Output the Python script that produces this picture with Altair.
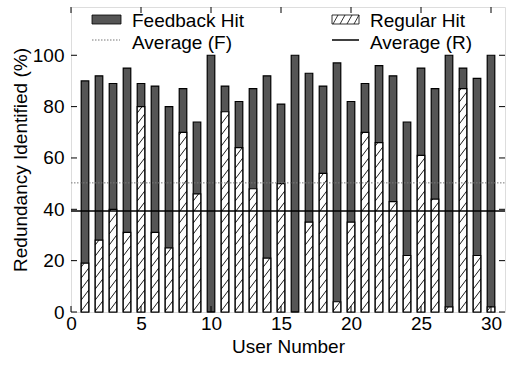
import altair as alt
import numpy as np
import pandas as pd

# ---- data ----
users = list(range(1, 31))
feedback_hit = [90, 92, 89, 95, 89, 88, 80, 87, 74, 100,
                88, 82, 87, 92, 81, 100, 93, 88, 97, 82,
                89, 96, 92, 74, 95, 87, 100, 95, 91, 100]
regular_hit = [19, 28, 40, 31, 80, 31, 25, 70, 46, 0,
               78, 64, 48, 21, 50, 0, 35, 54, 4, 35,
               70, 66, 43, 22, 61, 44, 2, 87, 22, 2]
avg_labels = ["Average (F)", "Average (R)"]
avg_values = [50.3, 39.3]
x_ticks = [0, 5, 10, 15, 20, 25, 30]
y_ticks = [0, 20, 40, 60, 80, 100]

# ---- layout ----
W, H = 434, 305
X_MAX, Y_MAX = 31, 118.8
HALF = 0.27
PX_Y = H / Y_MAX
RISE = 10 / PX_Y
SPACING = 11 / PX_Y
FONT = "Liberation Sans"
FS = 19
GRAY = "#555555"

bars = pd.DataFrame({
    "user": users,
    "lo": [u - HALF for u in users],
    "hi": [u + HALF for u in users],
    "feedback": feedback_hit,
    "regular": regular_hit,
})

# diagonal hatch segments for the regular-hit bars, clipped to each bar
rows = []
for u, r in zip(users, regular_hit):
    if r <= 0:
        continue
    xl, xr = u - HALF, u + HALF
    y0 = -RISE
    while y0 < r:
        t0 = max(0.0, -y0 / RISE)
        t1 = min(1.0, (r - y0) / RISE)
        if t1 > t0:
            rows.append({
                "hx": xl + t0 * (xr - xl), "hy": y0 + t0 * RISE,
                "hx2": xl + t1 * (xr - xl), "hy2": y0 + t1 * RISE,
            })
        y0 += SPACING
hatch = pd.DataFrame(rows)

avgs = pd.DataFrame({"name": avg_labels, "v": avg_values})

x_scale = alt.Scale(domain=[0, X_MAX], nice=False, zero=False)
y_scale = alt.Scale(domain=[0, Y_MAX], nice=False, zero=True)
x_axis = alt.Axis(values=x_ticks, title="User Number", ticks=False, domain=False,
                  grid=False, labelFlush=False, labelPadding=2, titlePadding=4,
                  labelFontSize=FS, titleFontSize=FS, titleFontWeight="normal",
                  labelColor="black", titleColor="black", labelFont=FONT, titleFont=FONT)
y_axis = alt.Axis(values=y_ticks, title="Redundancy Identified (%)", ticks=False,
                  domain=False, grid=False, labelPadding=7, titlePadding=2,
                  labelFontSize=FS, titleFontSize=FS, titleFontWeight="normal",
                  labelColor="black", titleColor="black", labelFont=FONT, titleFont=FONT)


def X(f):
    return alt.X(f, type="quantitative", scale=x_scale, axis=x_axis)


def Y(f):
    return alt.Y(f, type="quantitative", scale=y_scale, axis=y_axis)


fb = alt.Chart(bars).mark_rect(fill=GRAY, stroke="black", strokeWidth=1.2).encode(
    x=X("lo"), x2="hi", y=Y("feedback"), y2=alt.datum(0))
rg = alt.Chart(bars).mark_rect(fill="white", stroke="black", strokeWidth=1.2).encode(
    x=X("lo"), x2="hi", y=Y("regular"), y2=alt.datum(0))
hl = alt.Chart(hatch).mark_rule(color="black", strokeWidth=0.9).encode(
    x=X("hx"), x2="hx2", y=Y("hy"), y2="hy2")

avg_f_line = alt.Chart(avgs).transform_filter(alt.datum.name == "Average (F)").mark_rule(
    color="#777777", strokeWidth=1, strokeDash=[1.5, 1.5]).encode(
    y=Y("v"), x=alt.value(0), x2=alt.value(W))
avg_r_line = alt.Chart(avgs).transform_filter(alt.datum.name == "Average (R)").mark_rule(
    color="black", strokeWidth=1.5).encode(
    y=Y("v"), x=alt.value(0), x2=alt.value(W))

xt = pd.DataFrame({"t": x_ticks})
yt = pd.DataFrame({"t": y_ticks})
tick_layers = [
    alt.Chart(xt).mark_rule(color="black", strokeWidth=1).encode(x=X("t"), y=alt.value(H), y2=alt.value(H - 6)),
    alt.Chart(xt).mark_rule(color="black", strokeWidth=1).encode(x=X("t"), y=alt.value(0), y2=alt.value(6)),
    alt.Chart(yt).mark_rule(color="black", strokeWidth=1).encode(y=Y("t"), x=alt.value(0), x2=alt.value(6)),
    alt.Chart(yt).mark_rule(color="black", strokeWidth=1).encode(y=Y("t"), x=alt.value(W), x2=alt.value(W - 6)),
]

# ---- custom legend ----
one = pd.DataFrame({"a": [0]})
leg = []
leg.append(alt.Chart(one).mark_rect(fill=GRAY, stroke="black", strokeWidth=0.8).encode(
    x=alt.value(21), x2=alt.value(50), y=alt.value(8), y2=alt.value(17)))
leg.append(alt.Chart(one).mark_rect(fill="white", stroke="black", strokeWidth=0.8).encode(
    x=alt.value(261), x2=alt.value(288), y=alt.value(8), y2=alt.value(17)))
for i in range(4):
    leg.append(alt.Chart(one).mark_rule(color="black", strokeWidth=0.8).encode(
        x=alt.value(262 + i * 7), x2=alt.value(267 + i * 7), y=alt.value(17), y2=alt.value(8)))
leg.append(alt.Chart(one).mark_rule(color="#777777", strokeWidth=1, strokeDash=[1.5, 1.5]).encode(
    x=alt.value(21), x2=alt.value(49), y=alt.value(33), y2=alt.value(33)))
leg.append(alt.Chart(one).mark_rule(color="black", strokeWidth=1.5).encode(
    x=alt.value(261), x2=alt.value(288), y=alt.value(33), y2=alt.value(33)))
for txt, px, py in [("Feedback Hit", 61, 20), ("Average (F)", 61, 42),
                    ("Regular Hit", 299, 20), ("Average (R)", 299, 42)]:
    leg.append(alt.Chart(one).mark_text(align="left", baseline="alphabetic", font=FONT,
                                        fontSize=FS, color="black").encode(
        x=alt.value(px), y=alt.value(py), text=alt.value(txt)))

chart = alt.layer(fb, rg, hl, avg_f_line, avg_r_line, *tick_layers, *leg).properties(
    width=W, height=H,
    autosize=alt.AutoSizeParams(type="none"),
    padding={"left": 71, "top": 7, "right": 1, "bottom": 53},
).configure_view(stroke="black", strokeWidth=1.2).configure(background="white")

chart.save("out.html", embed_options={"renderer": "svg", "actions": False})
